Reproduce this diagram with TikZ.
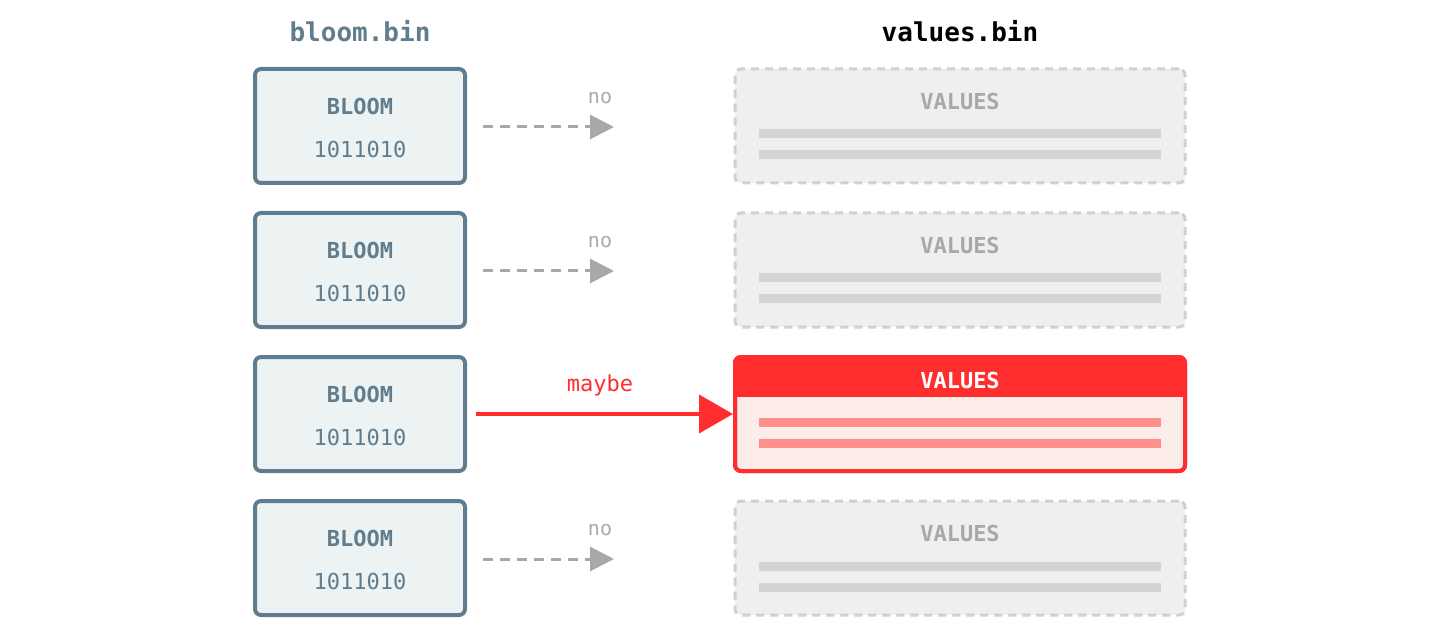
\documentclass[tikz,border=0pt]{standalone}
\usepackage{fontspec}
\setmonofont{DejaVu Sans Mono}
\usetikzlibrary{arrows.meta}
\definecolor{steel}{HTML}{5F7D8E}
\definecolor{bloomfill}{HTML}{EDF2F2}
\definecolor{gbord}{HTML}{D0D0D0}
\definecolor{gfill}{HTML}{EFEFED}
\definecolor{gbar}{HTML}{D3D3D1}
\definecolor{gtext}{HTML}{A8A8A6}
\definecolor{hred}{HTML}{FF2D2D}
\definecolor{rfill}{HTML}{FCECEA}
\definecolor{rbar}{HTML}{FF8F8B}
\tikzset{
 bloombox/.style={draw=steel,fill=bloomfill,line width=2pt,rounded corners=3pt,minimum width=105pt,minimum height=57pt},
 valbox/.style={draw=gbord,fill=gfill,line width=1.5pt,dashed,dash pattern=on 4pt off 3pt,rounded corners=3pt,minimum width=225pt,minimum height=57pt},
 redbox/.style={draw=hred,fill=rfill,line width=2pt,rounded corners=3pt,minimum width=225pt,minimum height=57pt},
 lbl/.style={font=\ttfamily\bfseries\fontsize{11}{13}\selectfont},
 bits/.style={font=\ttfamily\fontsize{11}{13}\selectfont,text=steel},
 noarrow/.style={draw=gtext,line width=1.5pt,dash pattern=on 5pt off 3.5pt,-{Triangle[width=12pt,length=12pt]}},
}
\begin{document}
\begin{tikzpicture}[x=0.5pt,y=-0.5pt]
\useasboundingbox (0,0) rectangle (1440,636);
\node[font=\ttfamily\bfseries\fontsize{13}{15}\selectfont,text=steel] (t1) at (360,31) {bloom.bin};
\node[font=\ttfamily\bfseries\fontsize{13}{15}\selectfont,text=black] (t2) at (960,31) {values.bin};
\foreach \i/\y in {1/126,2/270,3/414,4/558}{
 \node[bloombox] (b\i) at (360,\y) {};
 \node[lbl,text=steel] at (360,\y-20) {BLOOM};
 \node[bits] at (360,\y+23) {1011010};
}
\foreach \i/\y in {1/126,2/270,4/558}{
 \node[valbox] (v\i) at (960,\y) {};
 \node[lbl,text=gtext] at (960,\y-25) {VALUES};
 \fill[gbar] (759,\y+3.5) rectangle (1161,\y+12.5);
 \fill[gbar] (759,\y+24.5) rectangle (1161,\y+33.5);
 \coordinate (s\i) at (483,\y+1);
 \coordinate (e\i) at (614,\y+1);
 \draw[noarrow] (s\i) -- (e\i);
 \node[font=\ttfamily\fontsize{10}{12}\selectfont,text=gtext] at (600,\y-28) {no};
}
\node[redbox] (v3) at (960,414) {};
\begin{scope}
\clip[rounded corners=3pt] (735,357) rectangle (1185,471);
\fill[hred] (735,357) rectangle (1185,397);
\end{scope}
\draw[hred,line width=2pt,rounded corners=3pt] (735,357) rectangle (1185,471);
\node[lbl,text=white] at (960,380) {VALUES};
\fill[rbar] (759,417.5) rectangle (1161,426.5);
\fill[rbar] (759,438.5) rectangle (1161,447.5);
\draw[hred,line width=2pt,-{Triangle[width=19pt,length=17pt]}] (b3.east)++(9,0) -- (v3.west);
\node[font=\ttfamily\fontsize{11}{13}\selectfont,text=hred] at (600,385) {maybe};
\end{tikzpicture}
\end{document}
